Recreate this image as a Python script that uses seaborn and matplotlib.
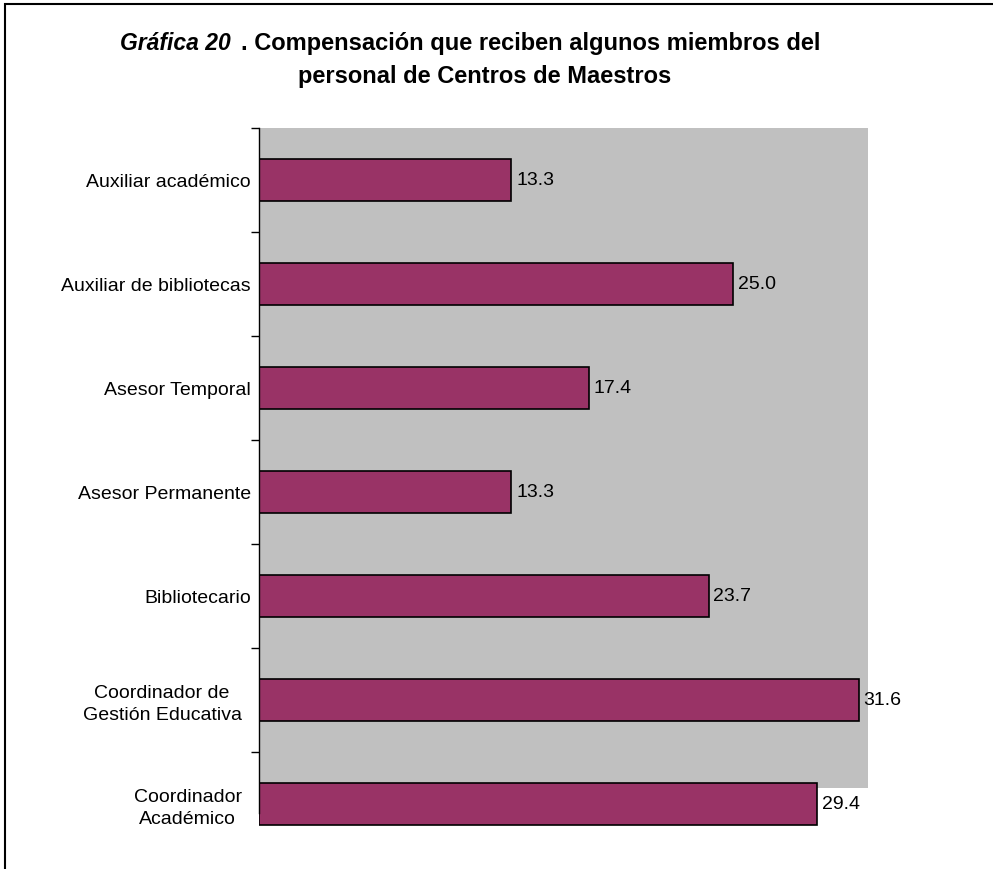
"""
    Gráfica 20: horizontal bar chart of compensation by staff role
"""

import matplotlib
matplotlib.use("Agg")
import matplotlib.pyplot as plt
import matplotlib.patches as mpatches
import matplotlib.transforms as mtransforms
import seaborn as sns
import pandas as pd

categories = [
    "Auxiliar académico",
    "Auxiliar de bibliotecas",
    "Asesor Temporal",
    "Asesor Permanente",
    "Bibliotecario",
    "Coordinador de\nGestión Educativa",
    "Coordinador\nAcadémico",
]
values = [13.3, 25.0, 17.4, 13.3, 23.7, 31.6, 29.4]

df = pd.DataFrame({"puesto": categories, "valor": values})

sns.set_style("white")
plt.rcParams["font.family"] = ["Liberation Sans", "DejaVu Sans"]
plt.rcParams["text.color"] = "black"

W, H = 993, 869
fig = plt.figure(figsize=(W / 100, H / 100), dpi=100)

# axes spans 7 category bands (128 -> 856 px), x from 259 to 868 px
ax = fig.add_axes([259 / W, 1 - 856 / H, (868 - 259) / W, (856 - 128) / H])
ax.set_facecolor("white")

# grey plot area stops short of the last band, like the original
ax.add_patch(mpatches.Rectangle((0, 1 - (788 - 128) / 728), 1, (788 - 128) / 728,
                                transform=ax.transAxes, facecolor="#c0c0c0",
                                edgecolor="none", zorder=0))

sns.barplot(data=df, x="valor", y="puesto", orient="h", color="#993366",
            edgecolor="black", linewidth=1.2, width=0.40, saturation=1, ax=ax)

for i, v in enumerate(values):
    ax.text(v + 0.25, i, f"{v:.1f}", va="center", ha="left", fontsize=14,
            color="black")

ax.set_xlim(0, 32.1)
ax.set_ylim(6.5, -0.5)
ax.set_xlabel("")
ax.set_ylabel("")
ax.set_xticks([])

for s in ["top", "right", "bottom"]:
    ax.spines[s].set_visible(False)
ax.spines["left"].set_color("black")
ax.spines["left"].set_linewidth(1)
ax.spines["left"].set_bounds(-0.5, 6.09)

ax.set_yticks(range(len(categories)))
ax.set_yticklabels(categories, fontsize=14, multialignment="center",
                   color="black", linespacing=1.35)
ax.tick_params(axis="y", which="major", length=0, pad=6)
ax.set_yticks([i - 0.5 for i in range(len(categories))], minor=True)
ax.tick_params(axis="y", which="minor", length=6, width=1, color="black",
               direction="out", left=True)

# two-line labels sit a little further left
shift = mtransforms.ScaledTranslation(-9 / 100, 0, fig.dpi_scale_trans)
for lab in ax.get_yticklabels():
    if "\n" in lab.get_text():
        lab.set_transform(lab.get_transform() + shift)

# title, first part bold italic
fig.text(231 / W, 1 - 50 / H, "Gráfica 20", fontsize=16.5, fontweight="bold",
         fontstyle="italic", ha="right", va="baseline", color="black")
fig.text(241 / W, 1 - 50 / H, ". Compensación que reciben algunos miembros del",
         fontsize=17, fontweight="bold", ha="left", va="baseline", color="black")
fig.text(485 / W, 1 - 83 / H, "personal de Centros de Maestros", fontsize=17,
         fontweight="bold", ha="center", va="baseline", color="black")

# outer frame (only top and left visible)
fig.patches.append(mpatches.Rectangle((5 / W, -0.1), 1.2, 1 - 4 / H + 0.1,
                                      transform=fig.transFigure, fill=False,
                                      edgecolor="black", linewidth=1.5))

fig.savefig("out.png", dpi=100)
